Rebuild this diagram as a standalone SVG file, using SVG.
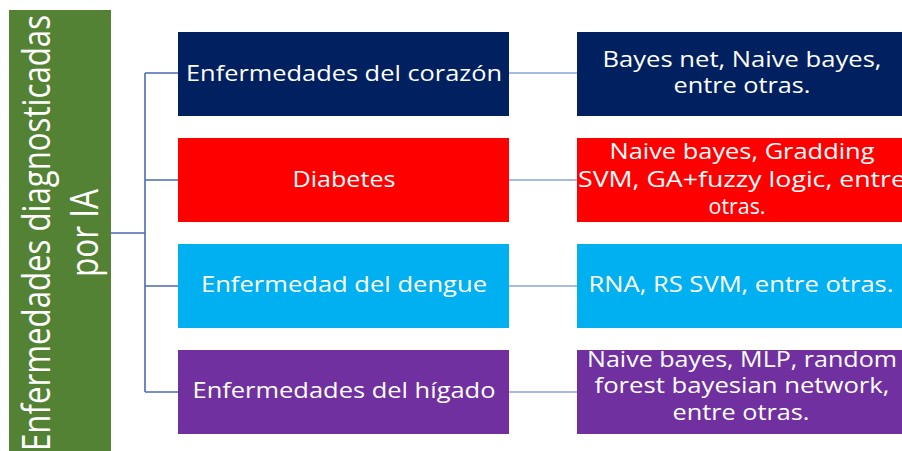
<svg xmlns="http://www.w3.org/2000/svg" width="902" height="451" viewBox="0 0 902 451">
<style>
  text { font-family: "Open Sans", "Noto Sans", "Liberation Sans", sans-serif; fill: #ffffff; text-anchor: middle; }
  .t { font-size: 21px; }
  .v { font-size: 39px; }
  .tree { stroke: #4a6bb5; stroke-width: 1.6; fill: none; }
  .link { stroke: #8aa5d6; stroke-width: 1.6; fill: none; }
</style>
<rect width="902" height="451" fill="#ffffff"/>
<g id="connectors">
  <path class="tree" d="M111 233 H145 M145 73 V392 M145 73 H178 M145 180 H178 M145 286 H178 M145 392 H178"/>
  <path class="link" d="M509 73 H577 M509 180 H577 M509 286 H577 M509 392 H577"/>
</g>
<g id="root">
  <rect x="9" y="10" width="102" height="441" fill="#548235"/>
  <g transform="translate(50,233) rotate(-90)">
    <text class="v" x="0" y="0" textLength="436" lengthAdjust="spacingAndGlyphs">Enfermedades diagnosticadas</text>
    <text class="v" x="0" y="48" textLength="88" lengthAdjust="spacingAndGlyphs">por IA</text>
  </g>
</g>
<g id="n-corazon">
  <rect x="178" y="32" width="331" height="84" fill="#002060"/>
  <text class="t" x="344" y="81" textLength="316" lengthAdjust="spacingAndGlyphs">Enfermedades del corazón</text>
</g>
<g id="n-diabetes">
  <rect x="178" y="138" width="331" height="84" fill="#ff0000"/>
  <text class="t" x="344" y="187" textLength="103" lengthAdjust="spacingAndGlyphs">Diabetes</text>
</g>
<g id="n-dengue">
  <rect x="178" y="244" width="331" height="84" fill="#00b0f0"/>
  <text class="t" x="344" y="292" textLength="286" lengthAdjust="spacingAndGlyphs">Enfermedad del dengue</text>
</g>
<g id="n-higado">
  <rect x="178" y="350" width="331" height="84" fill="#7030a0"/>
  <text class="t" x="344" y="398" textLength="303" lengthAdjust="spacingAndGlyphs">Enfermedades del hígado</text>
</g>
<g id="m-corazon">
  <rect x="577" y="32" width="331" height="84" fill="#002060"/>
  <text class="t" x="742" y="67" textLength="279" lengthAdjust="spacingAndGlyphs">Bayes net, Naive bayes,</text>
  <text class="t" x="742" y="93" textLength="137" lengthAdjust="spacingAndGlyphs">entre otras.</text>
</g>
<g id="m-diabetes">
  <rect x="577" y="138" width="331" height="84" fill="#ff0000"/>
  <text class="t" x="742" y="159" textLength="265" lengthAdjust="spacingAndGlyphs">Naive bayes, Gradding</text>
  <text class="t" x="742" y="187" textLength="328" lengthAdjust="spacingAndGlyphs">SVM, GA+fuzzy logic, entre</text>
  <text class="t" x="737" y="214" textLength="57" lengthAdjust="spacingAndGlyphs">otras.</text>
</g>
<g id="m-dengue">
  <rect x="577" y="244" width="331" height="84" fill="#00b0f0"/>
  <text class="t" x="741" y="292" textLength="305" lengthAdjust="spacingAndGlyphs">RNA, RS SVM, entre otras.</text>
</g>
<g id="m-higado">
  <rect x="577" y="350" width="331" height="84" fill="#7030a0"/>
  <text class="t" x="742" y="367" textLength="310" lengthAdjust="spacingAndGlyphs">Naive bayes, MLP, random</text>
  <text class="t" x="742" y="393" textLength="295" lengthAdjust="spacingAndGlyphs">forest bayesian network,</text>
  <text class="t" x="741" y="420" textLength="137" lengthAdjust="spacingAndGlyphs">entre otras.</text>
</g>
</svg>
